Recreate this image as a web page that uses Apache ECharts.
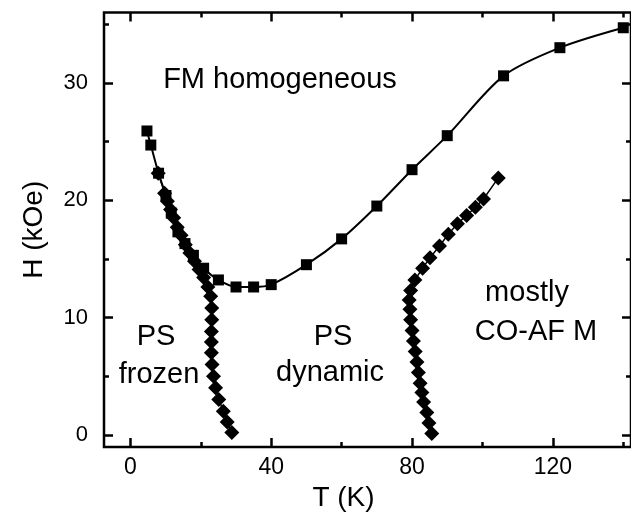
<!DOCTYPE html>
<html>
<head>
<meta charset="utf-8">
<script src="https://cdn.jsdelivr.net/npm/echarts@6/dist/echarts.min.js"></script>
<style>
html,body{margin:0;padding:0;background:#fff;}
#chart{width:631px;height:517px;}
</style>
</head>
<body>
<div id="chart"></div>
<script>
// FM boundary (squares)
var fmT = [4.7, 5.8, 8.0, 10.1, 11.6, 13.5, 15.5, 17.9, 20.8, 25.0, 30.0, 35.0, 40.0, 50.0, 60.0, 70.0, 80.0, 90.0, 106.0, 122.0, 140.0];
var fmH = [25.9, 24.7, 22.3, 20.4, 18.9, 17.3, 16.3, 15.3, 14.2, 13.2, 12.6, 12.6, 12.8, 14.5, 16.7, 19.5, 22.6, 25.5, 30.6, 33.0, 34.7];
// PS frozen / dynamic boundary (diamonds, left)
var leftT = [28.8, 27.5, 26.4, 25.1, 24.2, 23.6, 23.2, 23.0, 23.0, 23.0, 23.1, 23.1, 22.8, 22.0, 20.8, 19.5, 18.2, 16.9, 15.6, 14.4, 13.3, 12.3, 11.4, 10.5, 9.7, 7.9];
var leftH = [0.2, 1.1, 2.0, 3.0, 4.0, 5.0, 6.0, 7.0, 7.9, 8.8, 9.8, 10.8, 11.8, 12.6, 13.4, 14.1, 14.8, 15.5, 16.2, 17.0, 17.7, 18.5, 19.2, 19.9, 20.6, 22.3];
// PS dynamic / CO-AFM boundary (diamonds, right)
var rightT = [85.6, 84.8, 84.2, 83.3, 82.8, 82.3, 81.8, 81.4, 80.9, 80.4, 80.0, 79.6, 79.4, 79.2, 79.6, 80.8, 83.0, 85.1, 87.8, 90.3, 92.9, 95.5, 98.0, 100.3, 104.5];
var rightH = [0.1, 1.0, 1.9, 2.8, 3.6, 4.4, 5.3, 6.2, 7.1, 8.0, 8.9, 9.8, 10.7, 11.5, 12.3, 13.2, 14.2, 15.1, 16.1, 17.1, 18.0, 18.7, 19.4, 20.1, 21.9];
// ticks
var xMajor = [0, 40, 80, 120];
var xMinor = [20, 60, 100, 140];
var yMajor = [0, 10, 20, 30];
var yMinor = [5, 15, 25, 35];
var labels = [
  {text: 'FM homogeneous', x: 280, y: 80},
  {text: 'PS', x: 156, y: 337},
  {text: 'frozen', x: 159, y: 375},
  {text: 'PS', x: 333, y: 337},
  {text: 'dynamic', x: 330, y: 373},
  {text: 'mostly', x: 527, y: 293},
  {text: 'CO-AF M', x: 536, y: 332}
];

function zip(a, b) { return a.map(function (v, i) { return [v, b[i]]; }); }

var FONT = "'Liberation Sans', Arial, Helvetica, sans-serif";
var X_MIN = -7.5, X_MAX = 142.2, Y_MIN = -1.05, Y_MAX = 36;

function xAx(pos, ticks, len, withLabels) {
  var a = {
    type: 'value', position: pos, min: X_MIN, max: X_MAX, gridIndex: 0,
    axisLine: {show: false, onZero: false},
    splitLine: {show: false},
    axisTick: {show: true, inside: true, length: len, customValues: ticks, lineStyle: {color: '#000', width: 2.5}},
    axisLabel: {show: false}
  };
  if (withLabels) {
    a.axisLabel = {show: true, customValues: ticks, color: '#000', fontSize: 23, fontFamily: FONT, margin: 9};
    a.name = 'T (K)';
    a.nameLocation = 'middle';
    a.nameGap = 28;
    a.nameTextStyle = {color: '#000', fontSize: 28, fontFamily: FONT, padding: [0, 48, 0, 0]};
  }
  return a;
}
function yAx(pos, ticks, len, withLabels) {
  var a = {
    type: 'value', position: pos, min: Y_MIN, max: Y_MAX, gridIndex: 0,
    axisLine: {show: false, onZero: false},
    splitLine: {show: false},
    axisTick: {show: true, inside: true, length: len, customValues: ticks, lineStyle: {color: '#000', width: 2.5}},
    axisLabel: {show: false}
  };
  if (withLabels) {
    a.axisLabel = {show: true, customValues: ticks, color: '#000', fontSize: 22, fontFamily: FONT, margin: 16};
    a.name = 'H (kOe)';
    a.nameLocation = 'middle';
    a.nameGap = 56;
    a.nameRotate = 90;
    a.nameTextStyle = {color: '#000', fontSize: 28, fontFamily: FONT};
  }
  return a;
}

var chart = echarts.init(document.getElementById('chart'), null, {renderer: 'canvas'});
chart.setOption({
  animation: false,
  backgroundColor: '#fff',
  grid: {left: 104, right: 0, top: 12.5, bottom: 59, show: true, borderColor: '#000', borderWidth: 2.5, backgroundColor: 'transparent'},
  xAxis: [
    xAx('bottom', xMajor, 9, true),
    xAx('bottom', xMinor, 5, false),
    xAx('top', xMajor, 9, false),
    xAx('top', xMinor, 5, false)
  ],
  yAxis: [
    yAx('left', yMajor, 9, true),
    yAx('left', yMinor, 5, false),
    yAx('right', yMajor, 9, false),
    yAx('right', yMinor, 5, false)
  ],
  series: [
    {
      type: 'line', xAxisIndex: 0, yAxisIndex: 0,
      data: zip(fmT, fmH),
      smooth: 0.3,
      symbol: 'rect', symbolSize: 11,
      itemStyle: {color: '#000'},
      lineStyle: {color: '#000', width: 2}
    },
    {
      type: 'line', xAxisIndex: 0, yAxisIndex: 0,
      data: zip(leftT, leftH),
      symbol: 'diamond', symbolSize: 15,
      itemStyle: {color: '#000'},
      lineStyle: {color: '#000', width: 1.5}
    },
    {
      type: 'line', xAxisIndex: 0, yAxisIndex: 0,
      data: zip(rightT, rightH),
      symbol: 'diamond', symbolSize: 15,
      itemStyle: {color: '#000'},
      lineStyle: {color: '#000', width: 1.5}
    }
  ],
  graphic: labels.map(function (l) {
    return {
      type: 'text', x: l.x, y: l.y, z: 10,
      style: {text: l.text, fill: '#000', font: '29px ' + FONT, textAlign: 'center', textVerticalAlign: 'middle'}
    };
  })
});
</script>
</body>
</html>
